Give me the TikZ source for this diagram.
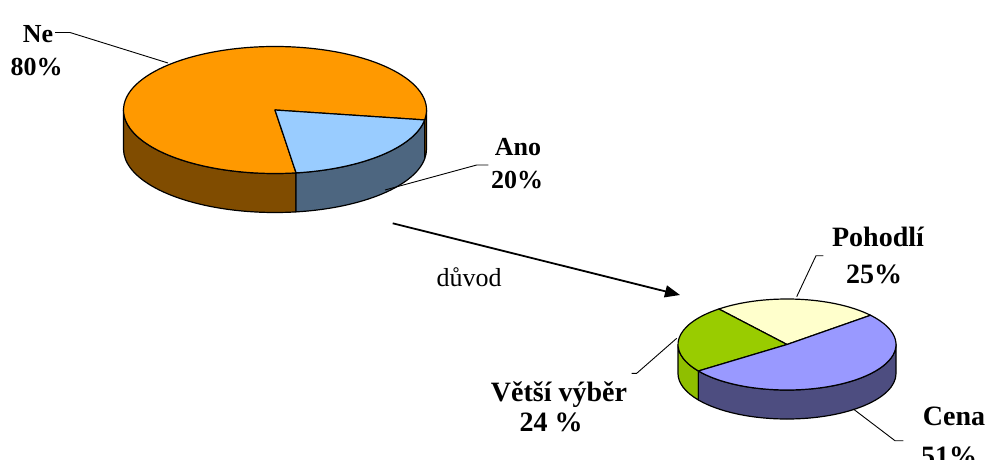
\documentclass[tikz,border=0pt]{standalone}
\usepackage{fontspec}
\setmainfont{Liberation Serif}
\usetikzlibrary{arrows.meta}
\definecolor{neTop}{HTML}{FF9900}
\definecolor{neSide}{HTML}{804C00}
\definecolor{anoTop}{HTML}{99CCFF}
\definecolor{anoSide}{HTML}{4D6680}
\definecolor{pohTop}{HTML}{FFFFCC}
\definecolor{vybTop}{HTML}{99CC00}
\definecolor{vybSide}{HTML}{8FBF00}
\definecolor{cenTop}{HTML}{9999FF}
\definecolor{cenSide}{HTML}{4D4D80}
\newcommand\psideface[8]{%
  \filldraw[fill=#8, pieline] ({#1+#3*cos(#6)},{#2+#4*sin(#6)})
    arc[start angle=#6,end angle=#7,x radius=#3pt,y radius=#4pt] -- ++(0,-#5)
    arc[start angle=#7,end angle=#6,x radius=#3pt,y radius=#4pt] -- cycle;}
\newcommand\ptopface[7]{%
  \filldraw[fill=#7, pieline] (#1,#2) -- ({#1+#3*cos(#5)},{#2+#4*sin(#5)})
    arc[start angle=#5,end angle=#6,x radius=#3pt,y radius=#4pt] -- cycle;}
\tikzset{
  pieline/.style={draw=black, line width=1.2pt, line join=round},
  leader/.style={draw=black, line width=0.9pt},
  biglab/.style={font=\fontsize{26}{32}\selectfont\bfseries, inner sep=0pt, anchor=base},
  smalllab/.style={font=\fontsize{28}{32}\selectfont\bfseries, inner sep=0pt, anchor=base},
  plainlab/.style={font=\fontsize{26}{32}\selectfont, inner sep=0pt, anchor=base},
}
\begin{document}
\begin{tikzpicture}[x=1pt,y=1pt]
\useasboundingbox (0,0) rectangle (988,459);
% ---------- big pie: center (275,349) rx 151.5 ry 63.5 depth 39
\psideface{275}{349}{151.5}{63.5}{39}{180}{278}{neSide}
\psideface{275}{349}{151.5}{63.5}{39}{278}{351}{anoSide}
\psideface{275}{349}{151.5}{63.5}{39}{351}{360}{neSide}
\ptopface{275}{349}{151.5}{63.5}{-9}{278}{neTop}
\ptopface{275}{349}{151.5}{63.5}{-82}{-9}{anoTop}
% ---------- small pie: center (787,114.5) rx 109 ry 45.5 depth 29
\psideface{787}{114.5}{109}{45.5}{29}{180}{215.6}{vybSide}
\psideface{787}{114.5}{109}{45.5}{29}{215.6}{360}{cenSide}
\ptopface{787}{114.5}{109}{45.5}{40}{128.7}{pohTop}
\ptopface{787}{114.5}{109}{45.5}{128.7}{215.6}{vybTop}
\ptopface{787}{114.5}{109}{45.5}{215.6}{400}{cenTop}
% ---------- labels
\node[biglab] (ne) at (38,416) {Ne};
\node[biglab] (nep) at (36.5,384) {80\%};
\node[biglab] (ano) at (518,304) {Ano};
\node[biglab] (anop) at (517,271) {20\%};
\node[plainlab] (duvod) at (469,172.3) {důvod};
\node[smalllab] (poh) at (878,212.3) {Pohodlí};
\node[smalllab] (pohp) at (874,176) {25\%};
\node[smalllab] (vyb) at (559,57.3) {Větší výběr};
\node[smalllab] (vybp) at (551,27.3) {24 \%};
\node[smalllab] (cen) at (954,34) {Cena};
\node[smalllab] (cenp) at (949,-6) {51\%};
% ---------- leader coordinates
\coordinate (neA) at (168,396);
\coordinate (neB) at (70,426.5);
\coordinate (neC) at (55,426.5);
\coordinate (anoA) at (385,269);
\coordinate (anoB) at (476.7,294);
\coordinate (anoC) at (488.3,294);
\coordinate (pohA) at (796.7,162.3);
\coordinate (pohB) at (816,203.3);
\coordinate (pohC) at (823.3,203.3);
\coordinate (cenA) at (853.3,50);
\coordinate (cenB) at (895,18.3);
\coordinate (cenC) at (903.3,18.3);
\coordinate (vybA) at (676.7,120.7);
\coordinate (vybB) at (636.7,85.7);
\coordinate (vybC) at (631.7,85.7);
\draw[leader] (neA) -- (neB) -- (neC);
\draw[leader] (anoA) -- (anoB) -- (anoC);
\draw[leader] (pohA) -- (pohB) -- (pohC);
\draw[leader] (cenA) -- (cenB) -- (cenC);
\draw[leader] (vybA) -- (vybB) -- (vybC);
% ---------- arrow
\coordinate (arrS) at (392.7,235.7);
\coordinate (arrE) at (680,164);
\draw[line width=1.8pt, -{Triangle[length=15pt,width=12pt]}] (arrS) -- (arrE);
\end{tikzpicture}
\end{document}
